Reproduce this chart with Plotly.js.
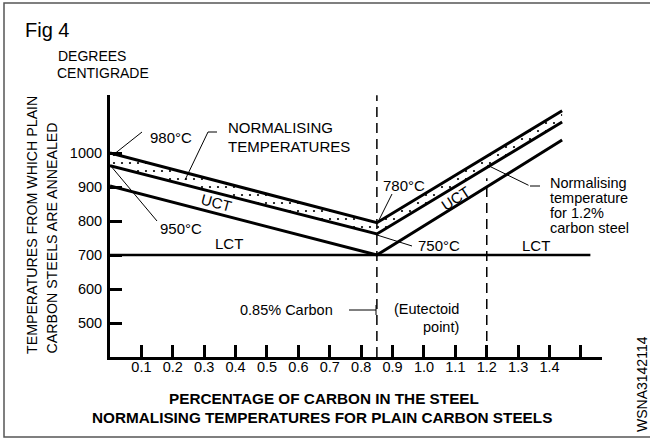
<!DOCTYPE html>
<html>
<head>
<meta charset="utf-8">
<script src="https://cdn.plot.ly/plotly-3.0.1.min.js"></script>
<style>html,body{margin:0;padding:0;background:#fff;}#chart{width:650px;height:439px;}</style>
</head>
<body>
<div id="chart"></div>
<script>
// ---- data ----
const carbon = [0, 0.85, 1.44];            // % carbon at the break points
const normUpper = [1000, 795, 1124];        // top of normalising band (°C)
const uctLine = [963, 762, 1091];           // upper critical temperature
const lowerLine = [903, 700, 1038];         // lower boundary line
const lctCarbon = [0, 1.53];
const lctTemp = [700, 700];                 // lower critical temperature
const eutectoidCarbon = [0.85, 0.85];
const eutectoidTemp = [400, 1170];
const sampleCarbon = [1.2, 1.2];
const sampleTemp = [400, 926];
const xTickVals = [0.1, 0.2, 0.3, 0.4, 0.5, 0.6, 0.7, 0.8, 0.9, 1.0, 1.1, 1.2, 1.3, 1.4, 1.5];
const xTickText = ['0.1','0.2','0.3','0.4','0.5','0.6','0.7','0.8','0.9','1.0','1.1','1.2','1.3','1.4',''];
const yTickVals = [500, 600, 700, 800, 900, 1000];
const yTickText = ['500','600','700','800','900','1000'];

// ---- layout helpers (pixel -> paper) ----
const L = 110, R = 602, T = 95, B = 357;
const px = x => (x - L) / (R - L);
const py = y => (B - y) / (B - T);
const FONT = 'Liberation Sans, Arial, sans-serif';
const f = (s, extra) => Object.assign({family: FONT, size: s, color: 'black'}, extra || {});

const thick = {color: 'black', width: 3};
const traces = [
  {x: carbon, y: uctLine, mode: 'lines', line: thick, hoverinfo: 'skip'},
  {x: carbon, y: normUpper, mode: 'lines', line: thick, fill: 'tonexty',
   fillcolor: 'white',
   fillpattern: {shape: '.', bgcolor: 'white', fgcolor: 'black', size: 8, solidity: 0.06},
   hoverinfo: 'skip'},
  {x: carbon, y: lowerLine, mode: 'lines', line: thick, hoverinfo: 'skip'},
  {x: lctCarbon, y: lctTemp, mode: 'lines', line: {color: 'black', width: 2.5}, hoverinfo: 'skip'},
  {x: eutectoidCarbon, y: eutectoidTemp, mode: 'lines', line: {color: 'black', width: 1.5, dash: '10px,6px'}, hoverinfo: 'skip'},
  {x: sampleCarbon, y: sampleTemp, mode: 'lines', line: {color: 'black', width: 1.5, dash: '10px,6px'}, hoverinfo: 'skip'}
];

function txt(text, x, y, opts) {
  return Object.assign({text: text, x: px(x), y: py(y), xref: 'paper', yref: 'paper',
    showarrow: false, xanchor: 'center', yanchor: 'middle', font: f(15)}, opts || {});
}
function seg(x0, y0, x1, y1, w) {
  return {type: 'line', xref: 'paper', yref: 'paper', x0: px(x0), y0: py(y0), x1: px(x1), y1: py(y1),
    line: {color: 'black', width: w || 1}};
}

const annotations = [
  txt('Fig 4', 23, 30, {xanchor: 'left', font: f(20)}),
  txt('DEGREES', 56, 56, {xanchor: 'left', font: f(14)}),
  txt('CENTIGRADE', 55, 73, {xanchor: 'left', font: f(14)}),
  txt('TEMPERATURES FROM WHICH PLAIN', 32, 356, {textangle: -90, yanchor: 'bottom', font: f(14.2)}),
  txt('CARBON STEELS ARE ANNEALED', 51, 356, {textangle: -90, yanchor: 'bottom', font: f(14.2)}),
  txt('980°C', 171, 137),
  txt('NORMALISING', 226, 127, {xanchor: 'left'}),
  txt('TEMPERATURES', 226, 146, {xanchor: 'left'}),
  txt('UCT', 216, 202, {textangle: 15}),
  txt('950°C', 181, 228),
  txt('LCT', 229, 243),
  txt('780°C', 404, 185),
  txt('750°C', 439, 245),
  txt('UCT', 455, 198, {textangle: -33}),
  txt('LCT', 536, 245),
  txt('Normalising', 548, 183, {xanchor: 'left', font: f(14.5)}),
  txt('temperature', 548, 198, {xanchor: 'left', font: f(14.5)}),
  txt('for 1.2%', 548, 213, {xanchor: 'left', font: f(14.5)}),
  txt('carbon steel', 548, 228, {xanchor: 'left', font: f(14.5)}),
  txt('0.85% Carbon', 238, 310, {xanchor: 'left', font: f(14.5)}),
  txt('(Eutectoid', 461, 309, {xanchor: 'right', font: f(14.5)}),
  txt('point)', 461, 327, {xanchor: 'right', font: f(14.5)}),
  txt('PERCENTAGE OF CARBON IN THE STEEL', 324, 398, {font: f(15.3, {weight: 'bold'})}),
  txt('NORMALISING TEMPERATURES FOR PLAIN CARBON STEELS', 322, 417, {font: f(15.3, {weight: 'bold'})}),
  txt('WSNA3142114', 642, 384, {textangle: -90, font: f(14)}),
  {x: px(487), y: py(165), ax: px(530), ay: py(186), xref: 'paper', yref: 'paper',
   axref: 'paper', ayref: 'paper', text: '', showarrow: true, arrowhead: 2, arrowsize: 0.7,
   arrowwidth: 1, arrowcolor: 'black'}
];

const shapes = [
  {type: 'rect', xref: 'paper', yref: 'paper', x0: px(4), y0: py(3), x1: px(660), y1: py(437),
   line: {color: '#555', width: 1.5}},
  seg(113, 155, 142, 132),
  seg(185, 180, 208, 132), seg(208, 132, 217, 132),
  seg(110, 165, 157, 221),
  seg(378, 222, 392, 194),
  seg(377, 235, 412, 246),
  seg(530, 186, 540, 186),
  seg(349, 310, 376, 310), seg(376, 305, 376, 315)
];

const layout = {
  width: 650, height: 439,
  margin: {l: L, r: 650 - R, t: T, b: 439 - B, pad: 0},
  paper_bgcolor: 'white', plot_bgcolor: 'white',
  showlegend: false,
  font: f(14.5),
  xaxis: {range: [0, 1.567], showgrid: false, zeroline: false, showline: true, linecolor: 'black', linewidth: 3,
    ticks: 'inside', ticklen: 12, tickwidth: 3, tickcolor: 'black',
    tickmode: 'array', tickvals: xTickVals, ticktext: xTickText, ticklabelstandoff: -5,
    tickfont: f(14.5), fixedrange: true},
  yaxis: {range: [400, 1170.6], showgrid: false, zeroline: false, showline: true, linecolor: 'black', linewidth: 3,
    ticks: 'inside', ticklen: 12, tickwidth: 3, tickcolor: 'black',
    tickmode: 'array', tickvals: yTickVals, ticktext: yTickText, ticklabelstandoff: 2,
    tickfont: f(14.5), fixedrange: true},
  annotations: annotations,
  shapes: shapes
};

Plotly.newPlot('chart', traces, layout, {displayModeBar: false, staticPlot: true});
</script>
</body>
</html>
